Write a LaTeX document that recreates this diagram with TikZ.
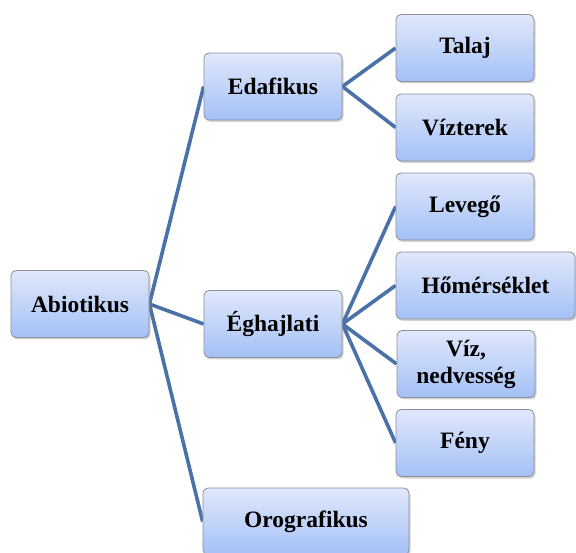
\documentclass[tikz,border=0pt]{standalone}
\usepackage{fontspec}
\setmainfont{Liberation Serif}
\usetikzlibrary{shadows, backgrounds}

\definecolor{boxtop}{HTML}{E0E8FB}
\definecolor{boxbot}{HTML}{A4C0F6}
\definecolor{boxline}{HTML}{8A8F99}
\definecolor{linkcol}{HTML}{4A72A8}

\tikzset{
    elem/.style={draw=boxline, line width=0.8pt, rounded corners=5pt,
        top color=boxtop, bottom color=boxbot,
        drop shadow={shadow xshift=1.5pt, shadow yshift=-2pt, opacity=0.35},
        minimum width=138pt, minimum height=67pt, inner sep=2pt,
        align=center, font=\fontsize{23.5}{27}\selectfont\bfseries},
    link/.style={draw=linkcol, line width=3.6pt}
}

\begin{document}
\begin{tikzpicture}[x=1pt, y=-1pt]
    \useasboundingbox (0,0) rectangle (576,553);

    % Level 0
    \node[elem] (abio) at (80,304) {Abiotikus};

    % Level 1
    \node[elem] (edaf) at (273,86.5) {Edafikus};
    \node[elem] (eghaj) at (273,324) {Éghajlati};
    \node[elem, minimum width=206pt] (orog) at (306,521.5) {Orografikus};

    % Level 2
    \node[elem] (talaj) at (465,48) {Talaj};
    \node[elem] (vizt) at (465,127.5) {Vízterek};
    \node[elem] (leveg) at (465,206.5) {Levegő};
    \node[elem, minimum width=179pt] (homer) at (485.5,285.5) {Hőmérséklet};
    \node[elem] (nedv) at (466,364) {Víz,\\nedvesség};
    \node[elem] (feny) at (465,443) {Fény};

    % Connectors
    \begin{scope}[on background layer]
        \foreach \to in {edaf, eghaj, orog}{
            \draw[link] (abio.east) -- (\to.west);
        }
        \foreach \to in {talaj, vizt}{
            \draw[link] (edaf.east) -- (\to.west);
        }
        \foreach \to in {leveg, homer, nedv, feny}{
            \draw[link] (eghaj.east) -- (\to.west);
        }
    \end{scope}

\end{tikzpicture}
\end{document}
